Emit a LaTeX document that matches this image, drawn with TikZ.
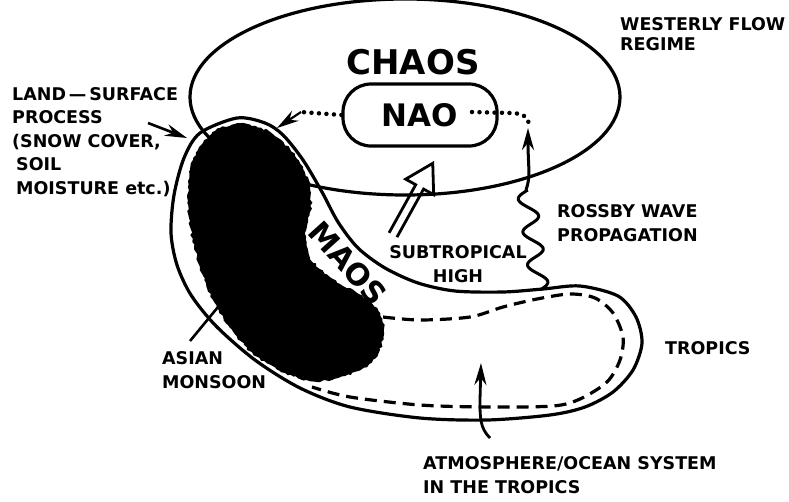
\documentclass[tikz,border=0pt]{standalone}
\usepackage{fontspec}
\setmainfont{DejaVu Sans}
\usetikzlibrary{arrows.meta,decorations.pathmorphing}
\newcommand{\lblfont}{\bfseries\fontsize{17.5}{23.5}\selectfont}

\begin{document}
\begin{tikzpicture}[x=1pt,y=-1pt,>={Stealth[length=22pt,width=12pt]},
  lbl/.style={font=\lblfont,align=left,inner sep=0pt,anchor=west},
  rim/.style={line width=3.2pt},
  dots/.style={line width=4.5pt,line cap=round,dash pattern=on 0pt off 7.5pt}]

\useasboundingbox (0,0) rectangle (789,501);

% westerly flow regime (big oval)
\draw[rim] (405,97) ellipse [x radius=215pt, y radius=98pt];
\node[font=\bfseries\fontsize{34}{40}\selectfont] (chaos) at (413,62) {CHAOS};

% MAOS region with the tropics lobe
\draw[rim] plot[smooth cycle] coordinates {
  (237,118) (265,123) (283,135) (303,160) (322,192) (338,222) (358,248)
  (385,268) (418,283) (455,291) (503,292) (543,289) (580,286) (618,296)
  (636,317) (642,343) (633,370) (613,392) (585,407) (550,415) (487,420)
  (420,418) (350,407) (300,388) (255,360) (216,326) (191,295) (177,265)
  (171,233) (174,195) (184,158) (200,133)};

% atmosphere/ocean system (dashed)
\draw[rim,dash pattern=on 12pt off 7pt] plot[smooth] coordinates {
  (383,317) (420,320) (470,317) (503,307) (537,299) (570,294) (595,298)
  (613,313) (623,337) (620,360) (607,382) (580,399) (553,406) (487,407)
  (420,405) (350,397) (312,387)};

% asian monsoon (black blob)
\fill[decorate,decoration={random steps,segment length=3pt,amplitude=1.2pt}]
  plot[smooth cycle] coordinates {
  (203,143) (220,128) (247,124) (270,132) (290,149) (303,167) (310,187)
  (311,210) (305,233) (310,257) (330,277) (357,293) (377,308) (384,328)
  (380,350) (367,367) (338,378) (310,381) (280,371) (253,354) (230,328)
  (213,300) (200,267) (190,227) (188,187) (193,160)};

\node[font=\bfseries\fontsize{30}{36}\selectfont,rotate=-48,inner sep=0pt] (maos) at (348,263) {MAOS};

% NAO
\node[draw,rim,rounded corners=28pt,minimum width=154pt,minimum height=62pt,
  font=\bfseries\fontsize{31}{36}\selectfont] (nao) at (420,115) {NAO};

% NAO -> MAOS
\coordinate (naol) at (301,112);
\coordinate (maostop) at (277,128);
\draw[dots] (nao.west) -- (naol);
\draw[line width=2.2pt,->] (naol) -- (maostop);

% subtropical high -> NAO (open arrow)
\begin{scope}[shift={(393,235)},rotate=61]
\draw[line width=2.8pt,line join=miter] (0,4.5) -- (55,4.5) -- (55,16) -- (82,0)
  -- (55,-16) -- (55,-4.5) -- (0,-4.5);
\end{scope}

% Rossby wave propagation
\coordinate (rwbase) at (540,290);
\coordinate (rwtop) at (526,190);
\coordinate (naor) at (529,127);
\draw[line width=3pt] plot[smooth,domain=0:100,samples=90]
  ({540-0.14*\x+9*sin(\x*10.909)},{290-\x});
\draw[line width=3pt,->] (rwtop) .. controls (531,176) and (528,168) .. (528,128);
\draw[dots] (472,112) -- (510,113) .. controls (525,113) and (529,118) .. (naor);

% labels
\node[lbl,font=\bfseries\fontsize{17.5}{20}\selectfont] (wfr) at (620,34) {WESTERLY FLOW\\REGIME};
\node[lbl] (lsp) at (12,142) {LAND\,—\,SURFACE\\PROCESS\\(SNOW COVER,\\\hspace*{4pt}SOIL\\\hspace*{4pt}MOISTURE etc.)};
\node[lbl] (rwp) at (557,223) {ROSSBY WAVE\\PROPAGATION};
\node[lbl,align=center,anchor=center] (sth) at (458,264) {SUBTROPICAL\\HIGH};
\node[lbl] (trp) at (665,348) {TROPICS};
\node[lbl] (asm) at (162,370) {ASIAN\\MONSOON};
\node[lbl] (aos) at (423,475) {ATMOSPHERE/OCEAN SYSTEM\\IN THE TROPICS};

% pointers
\coordinate (lspend) at (148,123);
\coordinate (maosrim) at (187,138);
\draw[line width=2.6pt,->] (lspend) -- (maosrim);
\coordinate (asmend) at (190,341);
\coordinate (blobedge) at (218,307);
\draw[line width=2.6pt] (asmend) -- (blobedge);
\coordinate (aosend) at (490,438);
\draw[line width=2.8pt,->] (aosend) .. controls (480,428) and (480,418) .. (480,400) -- (481,363);

\end{tikzpicture}
\end{document}
